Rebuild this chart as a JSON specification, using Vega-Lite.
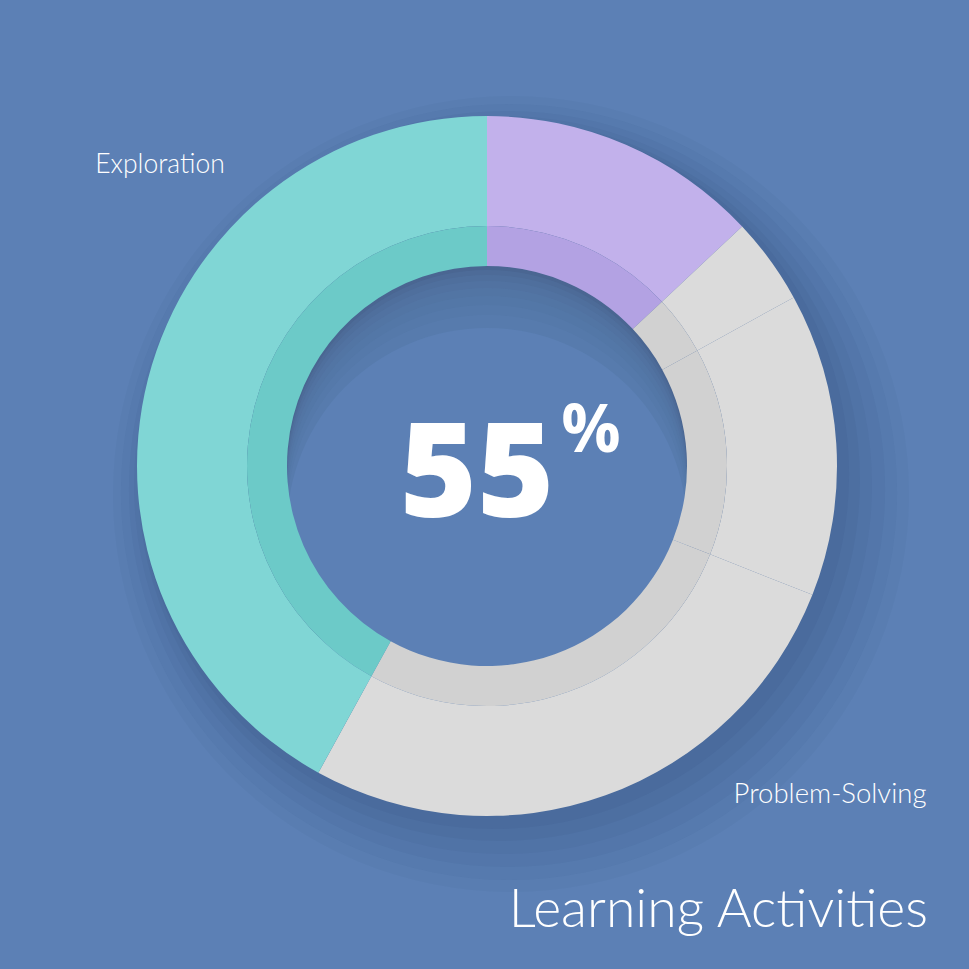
{
  "$schema": "https://vega.github.io/schema/vega-lite/v6.json",
  "width": 964,
  "height": 932,
  "autosize": "none",
  "padding": {"left": 5, "top": 0, "right": 0, "bottom": 37},
  "background": "#5c80b5",
  "config": {"view": {"stroke": null}},
  "data": {
    "values": [
      {"activity": "Creativity", "share": 13, "rank": 1},
      {"activity": "Reflection", "share": 4, "rank": 2},
      {"activity": "Collaboration", "share": 14, "rank": 3},
      {"activity": "Problem-Solving", "share": 27, "rank": 4},
      {"activity": "Exploration", "share": 42, "rank": 5}
    ]
  },
  "resolve": {"scale": {"color": "independent"}},
  "layer": [
    {"transform": [{"aggregate": [{"op": "sum", "field": "share", "as": "total"}]}],
     "mark": {"type": "arc", "theta": 0, "theta2": 6.2832, "radius": 398, "radius2": 0, "fill": "#1e3460", "opacity": 0.035, "xOffset": 24, "yOffset": 28}, "encoding": {}},
    {"transform": [{"aggregate": [{"op": "sum", "field": "share", "as": "total"}]}],
     "mark": {"type": "arc", "theta": 0, "theta2": 6.2832, "radius": 388, "radius2": 0, "fill": "#1e3460", "opacity": 0.04, "xOffset": 22, "yOffset": 26}, "encoding": {}},
    {"transform": [{"aggregate": [{"op": "sum", "field": "share", "as": "total"}]}],
     "mark": {"type": "arc", "theta": 0, "theta2": 6.2832, "radius": 378, "radius2": 0, "fill": "#1e3460", "opacity": 0.045, "xOffset": 20, "yOffset": 23}, "encoding": {}},
    {"transform": [{"aggregate": [{"op": "sum", "field": "share", "as": "total"}]}],
     "mark": {"type": "arc", "theta": 0, "theta2": 6.2832, "radius": 369, "radius2": 0, "fill": "#1e3460", "opacity": 0.05, "xOffset": 16, "yOffset": 19}, "encoding": {}},
    {"transform": [{"aggregate": [{"op": "sum", "field": "share", "as": "total"}]}],
     "mark": {"type": "arc", "theta": 0, "theta2": 6.2832, "radius": 361, "radius2": 0, "fill": "#1e3460", "opacity": 0.055, "xOffset": 12, "yOffset": 14}, "encoding": {}},
    {"transform": [{"aggregate": [{"op": "sum", "field": "share", "as": "total"}]}],
     "mark": {"type": "arc", "theta": 0, "theta2": 6.2832, "radius": 355, "radius2": 0, "fill": "#1e3460", "opacity": 0.06, "xOffset": 7, "yOffset": 8}, "encoding": {}},
    {"transform": [{"aggregate": [{"op": "sum", "field": "share", "as": "total"}]}],
     "mark": {"type": "arc", "theta": 0, "theta2": 6.2832, "radius": 202, "radius2": 0, "fill": "#4a6692"}, "encoding": {}},
    {"transform": [{"aggregate": [{"op": "sum", "field": "share", "as": "total"}]}],
     "mark": {"type": "arc", "theta": 0, "theta2": 6.2832, "radius": 200, "radius2": 0, "fill": "#5c80b5", "opacity": 0.2, "yOffset": 4}, "encoding": {}},
    {"transform": [{"aggregate": [{"op": "sum", "field": "share", "as": "total"}]}],
     "mark": {"type": "arc", "theta": 0, "theta2": 6.2832, "radius": 200, "radius2": 0, "fill": "#5c80b5", "opacity": 0.2, "yOffset": 9}, "encoding": {}},
    {"transform": [{"aggregate": [{"op": "sum", "field": "share", "as": "total"}]}],
     "mark": {"type": "arc", "theta": 0, "theta2": 6.2832, "radius": 200, "radius2": 0, "fill": "#5c80b5", "opacity": 0.2, "yOffset": 15}, "encoding": {}},
    {"transform": [{"aggregate": [{"op": "sum", "field": "share", "as": "total"}]}],
     "mark": {"type": "arc", "theta": 0, "theta2": 6.2832, "radius": 200, "radius2": 0, "fill": "#5c80b5", "opacity": 0.2, "yOffset": 22}, "encoding": {}},
    {"transform": [{"aggregate": [{"op": "sum", "field": "share", "as": "total"}]}],
     "mark": {"type": "arc", "theta": 0, "theta2": 6.2832, "radius": 200, "radius2": 0, "fill": "#5c80b5", "opacity": 0.2, "yOffset": 30}, "encoding": {}},
    {"transform": [{"aggregate": [{"op": "sum", "field": "share", "as": "total"}]}],
     "mark": {"type": "arc", "theta": 0, "theta2": 6.2832, "radius": 200, "radius2": 0, "fill": "#5c80b5", "opacity": 0.25, "yOffset": 39}, "encoding": {}},
    {"transform": [{"aggregate": [{"op": "sum", "field": "share", "as": "total"}]}],
     "mark": {"type": "arc", "theta": 0, "theta2": 6.2832, "radius": 200, "radius2": 0, "fill": "#5c80b5", "opacity": 0.35, "yOffset": 49}, "encoding": {}},
    {"transform": [{"aggregate": [{"op": "sum", "field": "share", "as": "total"}]}],
     "mark": {"type": "arc", "theta": 0, "theta2": 6.2832, "radius": 200, "radius2": 0, "fill": "#5c80b5", "opacity": 1, "yOffset": 62}, "encoding": {}},
    {
      "mark": {"type": "arc", "radius": 350, "radius2": 240},
      "encoding": {
        "theta": {"field": "share", "type": "quantitative", "stack": true},
        "order": {"field": "rank", "type": "quantitative"},
        "color": {
          "field": "activity", "type": "nominal", "legend": null,
          "scale": {
            "domain": ["Creativity", "Reflection", "Collaboration", "Problem-Solving", "Exploration"],
            "range": ["#c2b1eb", "#dbdbdb", "#dbdbdb", "#dbdbdb", "#80d6d5"]
          }
        }
      }
    },
    {
      "mark": {"type": "arc", "radius": 240, "radius2": 200},
      "encoding": {
        "theta": {"field": "share", "type": "quantitative", "stack": true},
        "order": {"field": "rank", "type": "quantitative"},
        "color": {
          "field": "activity", "type": "nominal", "legend": null,
          "scale": {
            "domain": ["Creativity", "Reflection", "Collaboration", "Problem-Solving", "Exploration"],
            "range": ["#b3a2e3", "#d1d1d1", "#d1d1d1", "#d1d1d1", "#6ccac8"]
          }
        }
      }
    },
    {
      "transform": [
        {"filter": {"field": "activity", "oneOf": ["Exploration", "Creativity"]}},
        {"aggregate": [{"op": "sum", "field": "share", "as": "total"}]}
      ],
      "mark": {"type": "text", "font": "Open Sans", "fontWeight": 800, "fontSize": 132, "color": "#ffffff", "align": "center", "baseline": "alphabetic", "dx": -10, "dy": 51},
      "encoding": {"text": {"field": "total", "type": "quantitative"}}
    },
    {
      "transform": [{"aggregate": [{"op": "sum", "field": "share", "as": "total"}]}],
      "mark": {"type": "text", "text": "%", "font": "Open Sans", "fontWeight": 700, "fontSize": 66, "color": "#ffffff", "align": "center", "baseline": "alphabetic", "dx": 104, "dy": -14},
      "encoding": {}
    },
    {
      "transform": [{"filter": {"field": "activity", "equal": "Exploration"}}],
      "mark": {"type": "text", "font": "Lato", "fontWeight": 300, "fontSize": 26.5, "color": "#ffffff", "align": "center", "baseline": "alphabetic", "dx": -327, "dy": -293},
      "encoding": {"text": {"field": "activity", "type": "nominal"}}
    },
    {
      "transform": [{"filter": {"field": "activity", "equal": "Problem-Solving"}}],
      "mark": {"type": "text", "font": "Lato", "fontWeight": 300, "fontSize": 27.5, "color": "#ffffff", "align": "center", "baseline": "alphabetic", "dx": 343, "dy": 337},
      "encoding": {"text": {"field": "activity", "type": "nominal"}}
    },
    {
      "transform": [{"aggregate": [{"op": "sum", "field": "share", "as": "total"}]}],
      "mark": {"type": "text", "text": "Learning Activities", "font": "Lato", "fontWeight": 300, "fontSize": 53.5, "color": "#ffffff", "align": "right", "baseline": "alphabetic", "dx": 441, "dy": 461},
      "encoding": {}
    }
  ]
}
